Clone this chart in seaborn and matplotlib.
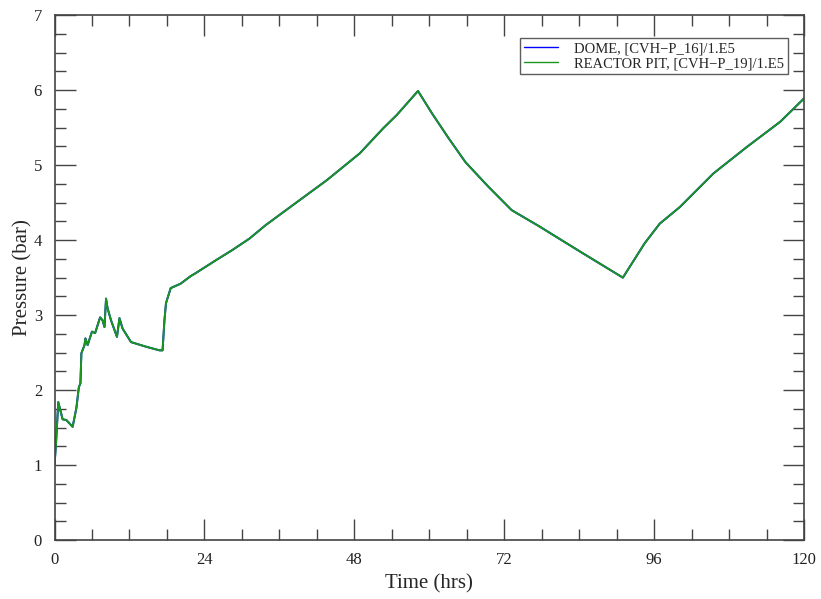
import matplotlib
matplotlib.use("Agg")
import matplotlib.pyplot as plt
import seaborn as sns
import pandas as pd
from matplotlib.ticker import MultipleLocator

# Containment pressure history (bar) versus time (hrs)
time_hrs = [0.0, 0.25, 0.6, 1.3, 1.9, 2.9, 3.5, 3.9, 4.15, 4.3, 4.8, 4.95, 5.3, 6.0,
            6.5, 7.3, 7.7, 8.0, 8.25, 8.5, 9.05, 10.0, 10.4, 10.9, 12.25, 14.6,
            16.8, 17.3, 17.6, 17.85, 18.6, 20.2, 21.8, 22.6, 25.8, 28.5, 31.2,
            33.8, 38.2, 43.6, 48.9, 52.6, 54.8, 58.2, 60.45, 63.1, 65.8, 69.5,
            73.2, 77.5, 84.1, 91.0, 94.5, 96.9, 100.1, 105.5, 110.8, 116.2, 120.0]

dome_bar = [1.00, 1.30, 1.84, 1.61, 1.60, 1.51, 1.76, 2.04, 2.09, 2.49, 2.60, 2.69,
            2.60, 2.78, 2.76, 2.97, 2.93, 2.84, 3.22, 3.09, 2.93, 2.71, 2.96, 2.82,
            2.64, 2.58, 2.53, 2.53, 2.93, 3.16, 3.36, 3.42, 3.52, 3.56, 3.73, 3.87,
            4.02, 4.20, 4.47, 4.80, 5.16, 5.49, 5.67, 5.99, 5.69, 5.36, 5.04, 4.71,
            4.40, 4.19, 3.85, 3.50, 3.96, 4.22, 4.44, 4.89, 5.24, 5.58, 5.89]

pit_bar = [1.00, 1.30, 1.84, 1.61, 1.60, 1.51, 1.76, 2.04, 2.09, 2.49, 2.60, 2.69,
           2.60, 2.78, 2.76, 2.97, 2.93, 2.84, 3.22, 3.09, 2.93, 2.71, 2.96, 2.82,
           2.64, 2.58, 2.53, 2.53, 2.93, 3.16, 3.36, 3.42, 3.52, 3.56, 3.73, 3.87,
           4.02, 4.20, 4.47, 4.80, 5.16, 5.49, 5.67, 5.99, 5.69, 5.36, 5.04, 4.71,
           4.40, 4.19, 3.85, 3.50, 3.96, 4.22, 4.44, 4.89, 5.24, 5.58, 5.89]

series_labels = ["DOME, [CVH\u2212P_16]/1.E5", "REACTOR PIT, [CVH\u2212P_19]/1.E5"]
series_colors = ["#0000ff", "#1a961e"]

sns.set_style("white")
plt.rcParams["font.family"] = ["Liberation Serif", "DejaVu Serif"]

df = pd.concat([
    pd.DataFrame({"Time": time_hrs, "Pressure": dome_bar, "Series": series_labels[0]}),
    pd.DataFrame({"Time": time_hrs, "Pressure": pit_bar, "Series": series_labels[1]}),
], ignore_index=True)

fig = plt.figure(figsize=(8.21, 5.99), dpi=100)
ax = fig.add_axes([0.0664, 0.0985, 0.9129, 0.876])

sns.lineplot(data=df, x="Time", y="Pressure", hue="Series",
             palette=dict(zip(series_labels, series_colors)),
             sort=False, estimator=None, linewidth=1.4, ax=ax)

ax.set_xlim(0, 120)
ax.set_ylim(0, 7)
ax.xaxis.set_major_locator(MultipleLocator(24))
ax.xaxis.set_minor_locator(MultipleLocator(6))
ax.yaxis.set_major_locator(MultipleLocator(1))
ax.yaxis.set_minor_locator(MultipleLocator(0.25))

ax.tick_params(which="both", direction="in", top=True, right=True,
               bottom=True, left=True,
               color="#444444", width=1.0, labelsize=12, labelcolor="#222222")
ax.tick_params(which="major", length=15, pad=9)
ax.tick_params(which="minor", length=8)
for sp in ax.spines.values():
    sp.set_color("#444444")
    sp.set_linewidth(1.2)

ax.set_xlabel("Time (hrs)", fontsize=15, labelpad=4)
ax.set_ylabel("Pressure (bar)", fontsize=15, labelpad=1)

leg = ax.legend(loc="upper right", bbox_to_anchor=(0.979, 0.957), borderaxespad=0,
                frameon=True, fancybox=False, fontsize=10.5, handlelength=2.3,
                borderpad=0.3, labelspacing=0.1, handletextpad=1.1)
leg.get_frame().set_edgecolor("#333333")
leg.get_frame().set_linewidth(1.0)
for line in leg.get_lines():
    line.set_linewidth(1.0)

fig.savefig("out.png", dpi=100)
